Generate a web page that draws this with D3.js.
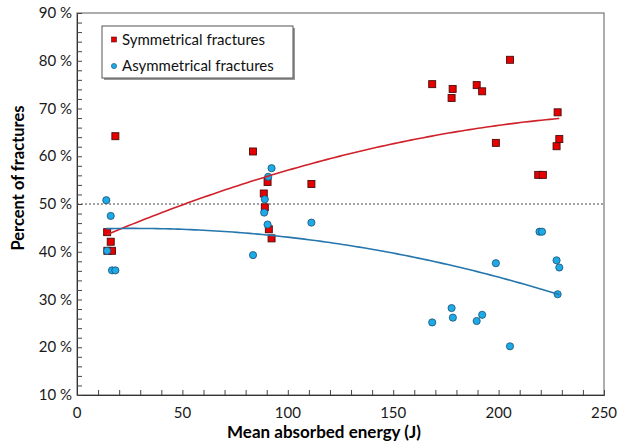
<!DOCTYPE html>
<meta charset="utf-8">
<style>
body { margin:0; background:#fff; }
svg { font-family: Lato, "Open Sans", sans-serif; }
</style>
<body>
<div id="chart"></div>
<script src="https://d3js.org/d3.v7.min.js"></script>
<script>
// symmetrical fractures: energy (J), percent
var symX = [14.3, 16.0, 14.4, 16.6, 18.2, 83.5, 88.6, 89.1, 90.4, 91.0, 92.3, 111.2,
            168.5, 177.7, 178.2, 189.6, 192.2, 198.7, 205.4, 218.8, 221.0, 227.5, 228.0, 228.8];
var symY = [44.1, 42.1, 40.2, 40.2, 64.2, 61.0, 52.2, 49.3, 54.6, 44.7, 42.8, 54.2,
            75.1, 72.2, 74.1, 74.9, 73.6, 62.8, 80.2, 56.1, 56.1, 62.1, 69.2, 63.6];
// asymmetrical fractures
var asyX = [13.9, 16.0, 14.3, 16.6, 18.2, 83.5, 88.8, 89.1, 90.4, 90.7, 92.3, 111.2,
            168.5, 177.7, 178.3, 189.6, 192.2, 198.7, 205.4, 219.4, 220.6, 227.5, 228.8, 228.0];
var asyY = [50.8, 47.5, 40.2, 36.1, 36.1, 39.3, 48.2, 51.0, 45.7, 55.7, 57.5, 46.1,
            25.2, 28.2, 26.2, 25.5, 26.8, 37.6, 20.2, 44.2, 44.2, 38.2, 36.7, 31.1];
var xTicks = [0, 50, 100, 150, 200, 250];
var yTicks = [10, 20, 30, 40, 50, 60, 70, 80, 90];
var seriesNames = ["Symmetrical fractures", "Asymmetrical fractures"];

var W = 617, H = 448;
var svg = d3.select("#chart").append("svg").attr("width", W).attr("height", H);

var x = d3.scaleLinear().domain([0, 250]).range([77, 604]);
var y = d3.scaleLinear().domain([10, 90]).range([395, 13]);

// least squares quadratic trend (like the spreadsheet trendline)
function quadFit(xs, ys) {
  var n = xs.length, s = [0,0,0,0,0], t = [0,0,0];
  for (var i = 0; i < n; i++) {
    var xi = xs[i];
    for (var k = 0; k < 5; k++) s[k] += Math.pow(xi, k);
    for (var k = 0; k < 3; k++) t[k] += ys[i] * Math.pow(xi, k);
  }
  var M = [[s[0], s[1], s[2], t[0]], [s[1], s[2], s[3], t[1]], [s[2], s[3], s[4], t[2]]];
  for (var c = 0; c < 3; c++) {
    for (var r = c + 1; r < 3; r++) {
      var f = M[r][c] / M[c][c];
      for (var k = c; k < 4; k++) M[r][k] -= f * M[c][k];
    }
  }
  var b = [0,0,0];
  for (var r = 2; r >= 0; r--) {
    var v = M[r][3];
    for (var k = r + 1; k < 3; k++) v -= M[r][k] * b[k];
    b[r] = v / M[r][r];
  }
  return function(v) { return b[0] + b[1] * v + b[2] * v * v; };
}

// frame
svg.append("rect").attr("x", x(0)).attr("y", y(90))
  .attr("width", x(250) - x(0)).attr("height", y(10) - y(90))
  .attr("fill", "none").attr("stroke", "#777").attr("stroke-width", 1.2);

// inner ticks
var gx = svg.append("g").attr("transform", "translate(0," + y(10) + ")")
  .call(d3.axisTop(x).tickValues(d3.range(0, 251, 10)).tickSize(5).tickFormat(""));
gx.select(".domain").attr("stroke", "#333");
gx.selectAll(".tick line").attr("stroke", "#444");
var gy = svg.append("g").attr("transform", "translate(" + x(0) + ",0)")
  .call(d3.axisRight(y).tickValues(d3.range(10, 91, 2)).tickSize(5).tickFormat(""));
gy.select(".domain").attr("stroke", "#333");
gy.selectAll(".tick line").attr("stroke", "#444");

// tick labels
svg.append("g").selectAll("text").data(xTicks).enter().append("text")
  .attr("x", function(d) { return x(d); }).attr("y", 418)
  .attr("text-anchor", "middle").attr("font-size", 15).attr("fill", "#1a1a1a")
  .text(function(d) { return d; });
svg.append("g").selectAll("text").data(yTicks).enter().append("text")
  .attr("x", 72).attr("y", function(d) { return y(d) + 5; })
  .attr("text-anchor", "end").attr("font-size", 15).attr("fill", "#1a1a1a")
  .text(function(d) { return d + " %"; });

// axis titles
svg.append("text").attr("x", 324).attr("y", 438).attr("text-anchor", "middle")
  .attr("font-size", 17).attr("font-weight", "bold").attr("fill", "#000")
  .text("Mean absorbed energy (J)");
svg.append("text").attr("transform", "translate(24,178) rotate(-90)").attr("text-anchor", "middle")
  .attr("font-size", 16.5).attr("font-weight", "bold").attr("fill", "#000")
  .text("Percent of fractures");

// 50 % reference
svg.append("line").attr("x1", x(0)).attr("x2", x(250)).attr("y1", y(50)).attr("y2", y(50))
  .attr("stroke", "#444").attr("stroke-dasharray", "2,2").attr("stroke-width", 1);

var symData = symX.map(function(v, i) { return [v, symY[i]]; });
var asyData = asyX.map(function(v, i) { return [v, asyY[i]]; });

// points
svg.append("g").selectAll("rect").data(symData).enter().append("rect")
  .attr("x", function(d) { return x(d[0]) - 3.5; }).attr("y", function(d) { return y(d[1]) - 3.5; })
  .attr("width", 7).attr("height", 7)
  .attr("fill", "#e60000").attr("stroke", "#4a0d0d").attr("stroke-width", 0.9);
svg.append("g").selectAll("circle").data(asyData).enter().append("circle")
  .attr("cx", function(d) { return x(d[0]); }).attr("cy", function(d) { return y(d[1]); })
  .attr("r", 3.6)
  .attr("fill", "#1eaae6").attr("stroke", "#1a4f73").attr("stroke-width", 0.8);

// trend lines
var line = d3.line().x(function(d) { return x(d[0]); }).y(function(d) { return y(d[1]); });
var fs = quadFit(symX, symY), fa = quadFit(asyX, asyY);
var sx = d3.range(d3.min(symX), d3.max(symX) + 0.01, 2).concat([d3.max(symX)]);
var ax = d3.range(d3.min(asyX), d3.max(asyX) + 0.01, 2).concat([d3.max(asyX)]);
svg.append("path").attr("d", line(sx.map(function(v) { return [v, fs(v)]; })))
  .attr("fill", "none").attr("stroke", "#d0202a").attr("stroke-width", 1.6);
svg.append("path").attr("d", line(ax.map(function(v) { return [v, fa(v)]; })))
  .attr("fill", "none").attr("stroke", "#2476ad").attr("stroke-width", 1.6);

// legend
var lg = svg.append("g");
lg.append("rect").attr("x", 104).attr("y", 28).attr("width", 191).attr("height", 52).attr("fill", "#999");
lg.append("rect").attr("x", 102).attr("y", 26).attr("width", 191).attr("height", 52)
  .attr("fill", "#fff").attr("stroke", "#555").attr("stroke-width", 1);
lg.append("rect").attr("x", 111.5).attr("y", 37).attr("width", 5).attr("height", 5)
  .attr("fill", "#e60000").attr("stroke", "#4a0d0d").attr("stroke-width", 0.6);
lg.append("circle").attr("cx", 114).attr("cy", 66).attr("r", 2.6)
  .attr("fill", "#1eaae6").attr("stroke", "#1a4f73").attr("stroke-width", 0.6);
lg.selectAll("text.lab").data(seriesNames).enter().append("text").attr("class", "lab")
  .attr("x", 122).attr("y", function(d, i) { return 45 + i * 26; })
  .attr("font-size", 15).attr("fill", "#111")
  .text(function(d) { return d; });
</script>
</body>
